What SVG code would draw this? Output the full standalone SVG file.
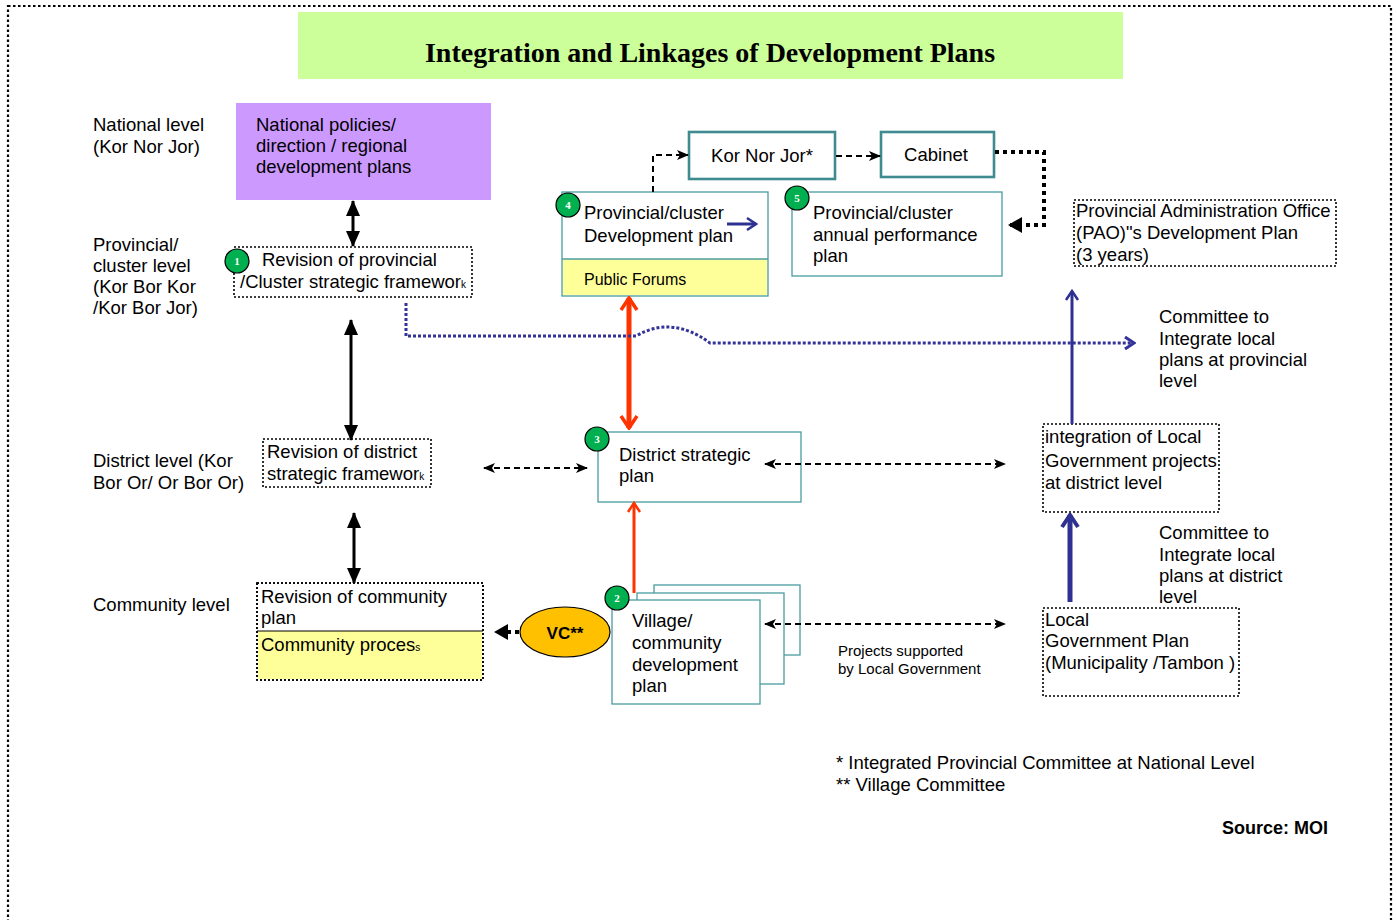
<svg xmlns="http://www.w3.org/2000/svg" width="1397" height="920" viewBox="0 0 1397 920">
<defs>
<style>
text{font-family:"Liberation Sans",Arial,sans-serif;font-size:18.5px;fill:#000}
.sm{font-size:15px}
.title{font-family:"Liberation Serif","Times New Roman",serif;font-size:28px;font-weight:bold}
.num{font-family:"Liberation Serif",serif;font-size:11px;font-weight:bold;fill:#fff;text-anchor:middle}
.dotbox{fill:#fff;stroke:#000;stroke-width:1.6;stroke-dasharray:2,2}
.teal{fill:#fff;stroke:#4a9ca0;stroke-width:1.3}
.teal2{fill:#fff;stroke:#3f8b8f;stroke-width:2.6}
.circ{fill:#00b050;stroke:#000;stroke-width:1.2}
.blk{stroke:#000;stroke-width:3;fill:none}
.dash{stroke:#000;stroke-width:2;stroke-dasharray:6,4;fill:none}
.dots{stroke:#000;stroke-width:4;stroke-dasharray:4,4;fill:none}
.bdots{stroke:#333399;stroke-width:3;stroke-dasharray:3,2;fill:none}
</style>
<marker id="ab" markerUnits="userSpaceOnUse" markerWidth="16" markerHeight="16" viewBox="0 0 16 16" refX="15" refY="8" orient="auto-start-reverse"><path d="M0,1 L16,8 L0,15 z" fill="#000"/></marker>
<marker id="ad" markerUnits="userSpaceOnUse" markerWidth="12" markerHeight="12" viewBox="0 0 12 12" refX="11" refY="6" orient="auto-start-reverse"><path d="M0,1 L12,6 L0,11 L3,6 z" fill="#000"/></marker>
<marker id="adot" markerUnits="userSpaceOnUse" markerWidth="14" markerHeight="16" viewBox="0 0 14 16" refX="12" refY="8" orient="auto"><path d="M0,0 L14,8 L0,16 z" fill="#000"/></marker>
<marker id="ar" markerUnits="userSpaceOnUse" markerWidth="20" markerHeight="20" viewBox="0 0 20 20" refX="18" refY="10" orient="auto-start-reverse"><path d="M6,2 L18,10 L6,18" fill="none" stroke="#ff3300" stroke-width="3.5"/></marker>
<marker id="ar2" markerUnits="userSpaceOnUse" markerWidth="16" markerHeight="16" viewBox="0 0 16 16" refX="14" refY="8" orient="auto"><path d="M5,2 L14,8 L5,14" fill="none" stroke="#ff3300" stroke-width="2.5"/></marker>
<marker id="an" markerUnits="userSpaceOnUse" markerWidth="16" markerHeight="16" viewBox="0 0 16 16" refX="14" refY="8" orient="auto"><path d="M5,2 L14,8 L5,14" fill="none" stroke="#2e3192" stroke-width="2.5"/></marker>
<marker id="an2" markerUnits="userSpaceOnUse" markerWidth="20" markerHeight="20" viewBox="0 0 20 20" refX="18" refY="10" orient="auto"><path d="M6,2 L18,10 L6,18" fill="none" stroke="#2e3192" stroke-width="4"/></marker>
<marker id="abd" markerUnits="userSpaceOnUse" markerWidth="14" markerHeight="14" viewBox="0 0 14 14" refX="12" refY="7" orient="auto"><path d="M3,1 L12,7 L3,13" fill="none" stroke="#333399" stroke-width="3"/></marker>
</defs>

<rect x="0" y="0" width="1397" height="920" fill="#fff"/>
<rect x="8" y="6" width="1383" height="940" fill="none" stroke="#000" stroke-width="2.2" stroke-dasharray="2.5,2.5"/>

<g id="title">
<rect x="298" y="12" width="825" height="67" fill="#ccff99"/>
<text class="title" x="710" y="62" text-anchor="middle">Integration and Linkages of Development Plans</text>
</g>

<g id="level-labels">
<text x="93" y="131">National level</text>
<text x="93" y="153">(Kor Nor Jor)</text>
<text x="93" y="251">Provincial/</text>
<text x="93" y="272">cluster level</text>
<text x="93" y="293">(Kor Bor Kor</text>
<text x="93" y="314">/Kor Bor Jor)</text>
<text x="93" y="467">District level (Kor</text>
<text x="93" y="489">Bor Or/ Or Bor Or)</text>
<text x="93" y="611">Community level</text>
</g>

<g id="national">
<rect x="236" y="103" width="255" height="97" fill="#cc99ff"/>
<text x="256" y="131">National policies/</text>
<text x="256" y="152">direction / regional</text>
<text x="256" y="173">development plans</text>
</g>

<g id="node1">
<rect class="dotbox" x="234" y="247" width="238" height="50"/>
<text x="262" y="266">Revision of provincial</text>
<text x="240" y="288">/Cluster strategic framewor<tspan font-size="10">k</tspan></text>
<circle class="circ" cx="237" cy="261" r="12"/>
<text class="num" x="237" y="265">1</text>
</g>

<g id="district-framework">
<rect class="dotbox" x="263" y="439" width="168" height="48"/>
<text x="267" y="458">Revision of district</text>
<text x="267" y="480">strategic framewor<tspan font-size="10">k</tspan></text>
</g>

<g id="community">
<rect class="dotbox" x="257" y="583" width="226" height="97"/>
<rect x="258" y="631" width="224" height="48" fill="#ffff99"/>
<line x1="257" y1="631" x2="483" y2="631" stroke="#000" stroke-width="1"/>
<rect x="257" y="583" width="226" height="97" fill="none" stroke="#000" stroke-width="1.6" stroke-dasharray="2,2"/>
<text x="261" y="603">Revision of community</text>
<text x="261" y="624">plan</text>
<text x="261" y="651">Community proces<tspan font-size="10">s</tspan></text>
</g>

<g id="vc">
<ellipse cx="565" cy="632" rx="45" ry="25" fill="#ffc000" stroke="#000" stroke-width="1.2"/>
<text x="565" y="639" text-anchor="middle" font-weight="bold" style="font-size:17px">VC**</text>
</g>

<g id="node2">
<rect class="teal" x="654" y="585" width="146" height="70"/>
<rect class="teal" x="637" y="593" width="147" height="91"/>
<rect class="teal" x="612" y="600" width="148" height="104"/>
<text x="632" y="627">Village/</text>
<text x="632" y="649">community</text>
<text x="632" y="671">development</text>
<text x="632" y="692">plan</text>
<circle class="circ" cx="617" cy="598" r="12"/>
<text class="num" x="617" y="602">2</text>
</g>

<g id="node3">
<rect class="teal" x="598" y="432" width="203" height="70"/>
<text x="619" y="461">District strategic</text>
<text x="619" y="482">plan</text>
<circle class="circ" cx="597" cy="439" r="12"/>
<text class="num" x="597" y="443">3</text>
</g>

<g id="node4">
<rect class="teal" x="562" y="192" width="206" height="104"/>
<rect x="563" y="259" width="204" height="36" fill="#ffff99"/>
<line x1="562" y1="259" x2="768" y2="259" stroke="#4a9ca0" stroke-width="1.3"/>
<text x="584" y="219">Provincial/cluster</text>
<text x="584" y="242">Development plan</text>
<text x="584" y="285" style="font-size:16px">Public Forums</text>
<circle class="circ" cx="568" cy="205" r="12"/>
<text class="num" x="568" y="209">4</text>
</g>

<g id="kornorjor">
<rect class="teal2" x="689" y="132" width="146" height="47"/>
<text x="762" y="162" text-anchor="middle">Kor Nor Jor*</text>
</g>

<g id="cabinet">
<rect class="teal2" x="881" y="132" width="113" height="45"/>
<text x="936" y="161" text-anchor="middle">Cabinet</text>
</g>

<g id="node5">
<rect class="teal" x="792" y="192" width="210" height="84"/>
<text x="813" y="219">Provincial/cluster</text>
<text x="813" y="241">annual performance</text>
<text x="813" y="262">plan</text>
<circle class="circ" cx="797" cy="198" r="12"/>
<text class="num" x="797" y="202">5</text>
</g>

<g id="pao">
<rect class="dotbox" x="1074" y="200" width="262" height="66"/>
<text x="1076" y="217">Provincial Administration Office</text>
<text x="1076" y="239">(PAO)"s Development Plan</text>
<text x="1076" y="261">(3 years)</text>
</g>

<g id="committee-provincial">
<text x="1159" y="323">Committee to</text>
<text x="1159" y="345">Integrate local</text>
<text x="1159" y="366">plans at provincial</text>
<text x="1159" y="387">level</text>
</g>

<g id="integration">
<rect class="dotbox" x="1043" y="424" width="176" height="88"/>
<text x="1045" y="443">integration of Local</text>
<text x="1045" y="467">Government projects</text>
<text x="1045" y="489">at district level</text>
</g>

<g id="committee-district">
<text x="1159" y="539">Committee to</text>
<text x="1159" y="561">Integrate local</text>
<text x="1159" y="582">plans at district</text>
<text x="1159" y="603">level</text>
</g>

<g id="local-gov">
<rect class="dotbox" x="1043" y="608" width="196" height="88"/>
<text x="1045" y="626">Local</text>
<text x="1045" y="647">Government Plan</text>
<text x="1045" y="669">(Municipality /Tambon )</text>
</g>

<g id="projects-label">
<text class="sm" x="838" y="656">Projects supported</text>
<text class="sm" x="838" y="674">by Local Government</text>
</g>

<g id="connectors">
<line class="blk" x1="353" y1="201" x2="353" y2="246" marker-start="url(#ab)" marker-end="url(#ab)"/>
<line class="blk" x1="351" y1="320" x2="351" y2="440" marker-start="url(#ab)" marker-end="url(#ab)"/>
<line class="blk" x1="354" y1="513" x2="354" y2="583" marker-start="url(#ab)" marker-end="url(#ab)"/>
<line x1="629" y1="298" x2="629" y2="428" stroke="#ff3300" stroke-width="5" marker-start="url(#ar)" marker-end="url(#ar)"/>
<path class="bdots" d="M406,303 V336 H636 Q672,315 710,343 H1134" marker-end="url(#abd)"/>
<line x1="634" y1="593" x2="634" y2="503" stroke="#ff3300" stroke-width="3" marker-end="url(#ar2)"/>
<line class="dash" x1="484" y1="468" x2="587" y2="468" marker-start="url(#ad)" marker-end="url(#ad)"/>
<line class="dash" x1="765" y1="464" x2="1005" y2="464" marker-start="url(#ad)" marker-end="url(#ad)"/>
<line class="dash" x1="765" y1="624" x2="1005" y2="624" marker-start="url(#ad)" marker-end="url(#ad)"/>
<path class="dash" d="M653,192 V155 H688" marker-end="url(#ad)"/>
<line class="dash" x1="836" y1="156" x2="880" y2="156" marker-end="url(#ad)"/>
<path class="dots" d="M995,152 H1044 V225 H1010" marker-end="url(#adot)"/>
<line class="dots" x1="519" y1="632" x2="496" y2="632" marker-end="url(#adot)"/>
<line x1="1072" y1="424" x2="1072" y2="291" stroke="#2e3192" stroke-width="3" marker-end="url(#an)"/>
<line x1="1070" y1="602" x2="1070" y2="515" stroke="#2e3192" stroke-width="5" marker-end="url(#an2)"/>
<line x1="727" y1="224" x2="756" y2="224" stroke="#2e3192" stroke-width="3" marker-end="url(#an)"/>
</g>

<g id="notes">
<text x="836" y="769" style="font-size:18.5px">* Integrated Provincial Committee at National Level</text>
<text x="836" y="791" style="font-size:18.5px">** Village Committee</text>
<text x="1222" y="834" font-weight="bold" style="font-size:18px">Source: MOI</text>
</g>
</svg>
